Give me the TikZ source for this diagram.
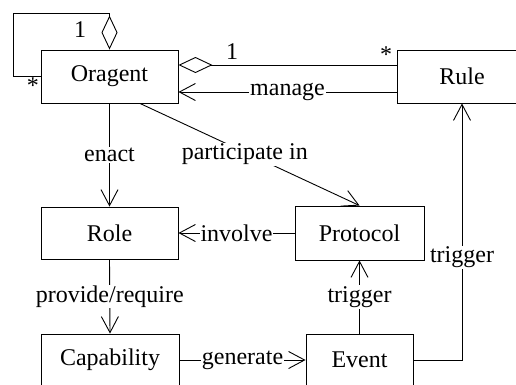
\documentclass[tikz,border=0pt]{standalone}
\usepackage{fontspec}
\setmainfont{Liberation Serif}
\usetikzlibrary{arrows.meta}
\begin{document}
\begin{tikzpicture}[x=1pt,y=-1pt,
  font=\fontsize{24}{28}\selectfont,
  line width=0.9pt,
  cls/.style={draw, rectangle, inner sep=0pt, anchor=center},
  lbl/.style={fill=white, inner sep=1pt},
  mult/.style={inner sep=0pt},
  nav/.style={-{Straight Barb[length=16pt,width=17pt,line width=0.9pt]}},
  agg/.style={{Diamond[open,length=34pt,width=16pt,line width=0.9pt]}-}
]
\useasboundingbox (0,0) rectangle (516,384);
\begin{scope}
\clip (0,0) rectangle (516,384);

% heading above the diagram (only its lower edge lies in view)
\node[inner sep=0pt, anchor=base, font=\fontsize{28}{32}\selectfont\bfseries] (head) at (67,-7) {g};

% classes
\node[cls, minimum width=137pt, minimum height=53pt] (oragent)    at (109.5,76.5) {Oragent};
\node[cls, minimum width=130pt, minimum height=53pt] (rule)       at (462,76.5)   {Rule};
\node[cls, minimum width=137pt, minimum height=52pt] (role)       at (109.5,233)  {Role};
\node[cls, minimum width=129pt, minimum height=54pt] (protocol)   at (359.5,233)  {Protocol};
\node[cls, minimum width=138pt, minimum height=52pt] (capability) at (110,360)    {Capability};
\node[cls, minimum width=107pt, minimum height=52pt] (event)      at (359.5,360)  {Event};

% reflexive aggregation on Oragent
\coordinate (loopA) at (109.5,13);
\coordinate (loopB) at (13,76.5);
\draw[agg] (oragent.north) -- (loopA) -| (loopB) -- (oragent.west);
\node[mult] (m1) at (80,30) {1};
\node[mult] (m2) at (33,86) {*};

% Oragent <>-- Rule
\draw[agg] ([yshift=11.5pt]oragent.east) -- ([yshift=11.5pt]rule.west);
\node[mult] (m3) at (232,52) {1};
\node[mult] (m4) at (386,55) {*};

% associations
\draw[nav] ([yshift=-15.5pt]rule.west) -- node[lbl] {manage} ([yshift=-15.5pt]oragent.east);
\draw[nav] (oragent.south) -- node[lbl] {enact} (role.north);
\draw[nav] ([xshift=30.5pt]oragent.south) -- node[lbl, xshift=-5pt] {participate in} (protocol.north);
\draw[nav] (protocol.west) -- node[lbl] {involve} (role.east);
\draw[nav] (role.south) -- node[lbl] {provide/require} (capability.north);
\draw[nav] (capability.east) -- node[lbl] {generate} (event.west);
\draw[nav] (event.north) -- node[lbl] {trigger} (protocol.south);
\draw[nav] (event.east) -| node[lbl, pos=0.7] {trigger} (rule.south);
\end{scope}
\end{tikzpicture}
\end{document}
